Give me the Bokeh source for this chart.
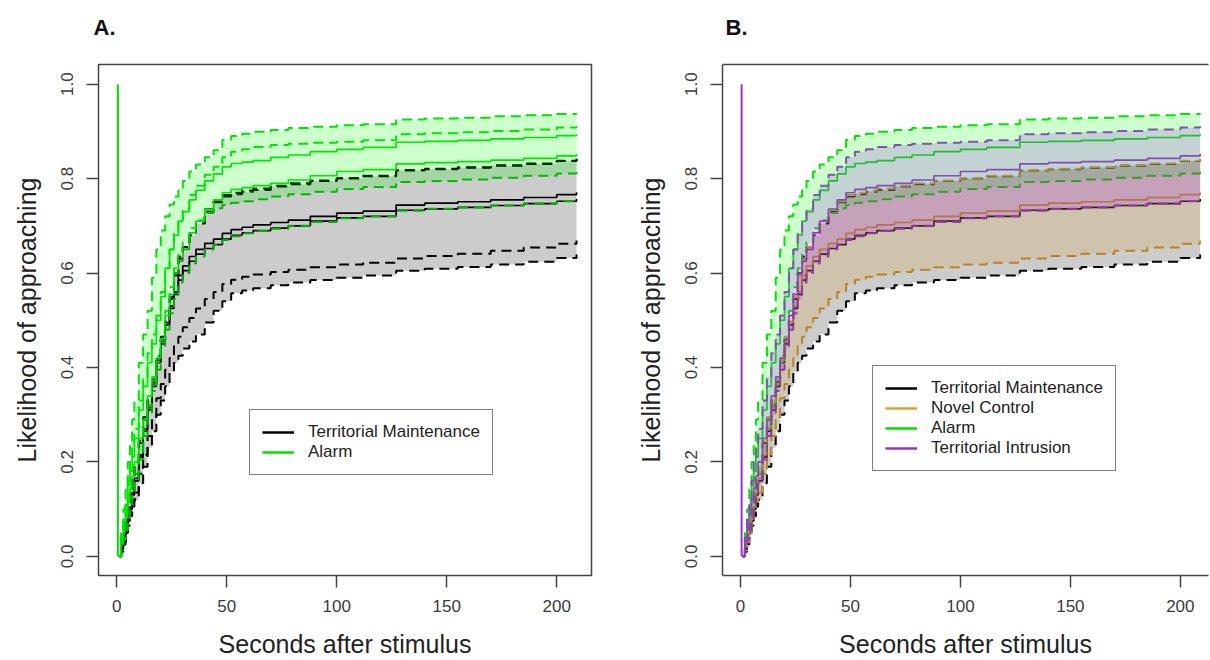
from bokeh.plotting import figure
from bokeh.models import Range1d, FixedTicker, PrintfTickFormatter, Legend, LegendItem, LinearAxis, Title
from bokeh.layouts import row
from bokeh.embed import file_html
from bokeh.resources import INLINE

# ---------------- data ----------------
TIME = [1, 2, 3, 4, 5, 6, 7, 8, 10, 12, 14, 16, 18, 20, 22, 24, 26, 28, 30, 33, 36, 40,
        44, 48, 52, 57, 62, 70, 78, 88, 100, 112, 127, 140, 155, 170, 185, 200, 209]

TM_EST = [0.0, 0.015, 0.03, 0.05, 0.075, 0.10, 0.13, 0.16, 0.21, 0.265, 0.31, 0.36, 0.41, 0.45, 0.49,
          0.525, 0.555, 0.585, 0.605, 0.625, 0.64, 0.652, 0.66, 0.672, 0.68, 0.685, 0.69, 0.695, 0.70,
          0.71, 0.717, 0.72, 0.733, 0.736, 0.739, 0.743, 0.747, 0.752, 0.757]
TM_LO = [0.0, 0.01, 0.025, 0.045, 0.065, 0.085, 0.105, 0.12, 0.155, 0.19, 0.23, 0.265, 0.30, 0.33, 0.36,
         0.39, 0.41, 0.425, 0.44, 0.455, 0.47, 0.495, 0.52, 0.54, 0.557, 0.563, 0.568, 0.574, 0.58,
         0.585, 0.59, 0.595, 0.605, 0.609, 0.613, 0.618, 0.624, 0.632, 0.639]
TM_HI = [0.0, 0.025, 0.05, 0.08, 0.11, 0.14, 0.165, 0.19, 0.24, 0.29, 0.33, 0.37, 0.42, 0.46, 0.50,
         0.545, 0.60, 0.635, 0.655, 0.68, 0.705, 0.73, 0.75, 0.762, 0.767, 0.772, 0.776, 0.783, 0.788,
         0.795, 0.80, 0.805, 0.817, 0.82, 0.823, 0.827, 0.831, 0.837, 0.841]

NC_EST = [0.0, 0.02, 0.035, 0.055, 0.08, 0.105, 0.135, 0.165, 0.215, 0.27, 0.315, 0.365, 0.415, 0.455, 0.495,
          0.53, 0.56, 0.595, 0.615, 0.635, 0.65, 0.663, 0.672, 0.684, 0.692, 0.697, 0.702, 0.707, 0.712,
          0.72, 0.727, 0.731, 0.744, 0.748, 0.751, 0.755, 0.76, 0.766, 0.771]
NC_LO = [0.0, 0.012, 0.03, 0.05, 0.07, 0.095, 0.115, 0.135, 0.175, 0.215, 0.255, 0.295, 0.335, 0.365, 0.395,
         0.42, 0.445, 0.465, 0.485, 0.505, 0.525, 0.545, 0.56, 0.577, 0.586, 0.592, 0.597, 0.602, 0.607,
         0.612, 0.618, 0.622, 0.631, 0.636, 0.641, 0.647, 0.654, 0.662, 0.669]
NC_HI = [0.0, 0.028, 0.055, 0.085, 0.115, 0.145, 0.17, 0.195, 0.245, 0.295, 0.335, 0.375, 0.425, 0.465, 0.505,
         0.55, 0.595, 0.63, 0.655, 0.685, 0.71, 0.735, 0.752, 0.765, 0.77, 0.775, 0.779, 0.785, 0.79,
         0.796, 0.801, 0.806, 0.818, 0.821, 0.824, 0.828, 0.832, 0.838, 0.842]

AL_EST = [0.0, 0.035, 0.07, 0.11, 0.15, 0.18, 0.21, 0.25, 0.31, 0.36, 0.41, 0.45, 0.50, 0.55, 0.61,
          0.65, 0.68, 0.71, 0.73, 0.755, 0.775, 0.795, 0.81, 0.825, 0.832, 0.835, 0.838, 0.845, 0.85,
          0.857, 0.862, 0.866, 0.877, 0.879, 0.881, 0.884, 0.887, 0.891, 0.894]
AL_LO = [0.0, 0.02, 0.045, 0.07, 0.10, 0.125, 0.15, 0.175, 0.22, 0.27, 0.32, 0.36, 0.41, 0.46, 0.52,
         0.57, 0.61, 0.64, 0.665, 0.695, 0.712, 0.727, 0.737, 0.744, 0.749, 0.752, 0.756, 0.762, 0.767,
         0.772, 0.778, 0.782, 0.793, 0.795, 0.798, 0.802, 0.806, 0.811, 0.815]
AL_HI = [0.0, 0.05, 0.10, 0.15, 0.20, 0.24, 0.29, 0.33, 0.41, 0.47, 0.52, 0.59, 0.65, 0.69, 0.72,
         0.745, 0.762, 0.78, 0.795, 0.815, 0.83, 0.845, 0.86, 0.882, 0.89, 0.895, 0.899, 0.903, 0.907,
         0.91, 0.913, 0.915, 0.925, 0.927, 0.929, 0.932, 0.934, 0.937, 0.938]

TI_EST = [0.0, 0.03, 0.06, 0.09, 0.12, 0.145, 0.17, 0.20, 0.25, 0.29, 0.34, 0.38, 0.42, 0.46, 0.51,
          0.555, 0.60, 0.625, 0.65, 0.685, 0.71, 0.735, 0.755, 0.77, 0.777, 0.781, 0.785, 0.79, 0.797,
          0.806, 0.815, 0.819, 0.831, 0.834, 0.836, 0.839, 0.843, 0.848, 0.852]
TI_LO = [0.0, 0.015, 0.035, 0.055, 0.08, 0.105, 0.13, 0.155, 0.205, 0.255, 0.30, 0.35, 0.395, 0.44, 0.48,
         0.515, 0.545, 0.58, 0.60, 0.62, 0.635, 0.65, 0.66, 0.67, 0.678, 0.684, 0.689, 0.694, 0.70,
         0.708, 0.716, 0.72, 0.732, 0.736, 0.739, 0.743, 0.747, 0.752, 0.756]
TI_HI = [0.0, 0.04, 0.08, 0.12, 0.16, 0.20, 0.23, 0.27, 0.33, 0.38, 0.43, 0.47, 0.51, 0.56, 0.61,
         0.65, 0.685, 0.71, 0.735, 0.765, 0.785, 0.808, 0.825, 0.845, 0.857, 0.862, 0.867, 0.871, 0.874,
         0.876, 0.878, 0.881, 0.894, 0.896, 0.898, 0.901, 0.904, 0.908, 0.911]

GROUPS = ["Territorial Maintenance", "Novel Control", "Alarm", "Territorial Intrusion"]
PANEL_TITLES = ["A.", "B."]
VLINE_X = [0.5, 0.5]
VLINE_Y = [0.0, 1.0]
X_TICKS = [0, 50, 100, 150, 200]
Y_TICKS = [0.0, 0.2, 0.4, 0.6, 0.8, 1.0]

SERIES = [(TM_EST, TM_LO, TM_HI), (NC_EST, NC_LO, NC_HI),
          (AL_EST, AL_LO, AL_HI), (TI_EST, TI_LO, TI_HI)]

# ---------------- style ----------------
FONT = "Liberation Sans"
BLACK = "#000000"
GREEN = "#00E000"
GREEN_FILL = "#00FF00"
ORANGE = "#E0A030"
PURPLE = "#9A32CD"
PURPLE_FILL = "#A020F0"
BOX = "#444444"
NAN = float("nan")


def style_axis(ax, ticks):
    ax.ticker = FixedTicker(ticks=ticks)
    ax.major_tick_out = 12
    ax.major_tick_in = 0
    ax.minor_tick_out = 0
    ax.minor_tick_in = 0
    ax.major_tick_line_color = BOX
    ax.major_tick_line_width = 1.5
    ax.major_label_text_font = FONT
    ax.major_label_text_font_size = "17px"
    ax.major_label_text_color = "#3a3a3a"
    ax.major_label_standoff = 13
    ax.axis_label_text_font = FONT
    ax.axis_label_text_font_size = "25px"
    ax.axis_label_text_font_style = "normal"
    ax.axis_label_text_color = "#222222"


def make_panel(width, x_start, x_end, min_left, min_right, title, title_offset,
               line_colors, fills, legend_names, legend_colors, legend_loc, full_box):
    p = figure(width=width, height=660, x_range=Range1d(x_start, x_end),
               y_range=Range1d(-0.0405, 1.0416), output_backend="svg", toolbar_location=None,
               min_border_left=min_left, min_border_right=min_right,
               min_border_top=64, min_border_bottom=83, title=None,
               x_axis_label="Seconds after stimulus", y_axis_label="Likelihood of approaching")
    p.xgrid.visible = False
    p.ygrid.visible = False
    p.background_fill_color = "white"
    p.border_fill_color = "white"

    style_axis(p.xaxis[0], X_TICKS)
    style_axis(p.yaxis[0], Y_TICKS)
    p.yaxis[0].formatter = PrintfTickFormatter(format="%.1f")
    p.yaxis[0].major_label_orientation = "vertical"
    p.xaxis[0].major_label_standoff = 12
    p.xaxis[0].axis_label_standoff = 15
    p.yaxis[0].axis_label_standoff = 18

    if full_box:
        p.outline_line_color = BOX
        p.outline_line_width = 1.5
        p.xaxis[0].axis_line_color = None
        p.yaxis[0].axis_line_color = None
    else:
        p.outline_line_color = None
        p.xaxis[0].axis_line_color = BOX
        p.xaxis[0].axis_line_width = 1.5
        p.yaxis[0].axis_line_color = BOX
        p.yaxis[0].axis_line_width = 1.5

    # tick-less top axis: draws the top edge of the box (panel B); its blank
    # label reserves the gap between the box and the panel letter
    top = LinearAxis(ticker=FixedTicker(ticks=[]), major_tick_out=0, major_tick_in=0,
                     minor_tick_out=0, minor_tick_in=0, major_label_standoff=0,
                     axis_label=" ", axis_label_standoff=0, axis_label_text_font_size="20px",
                     axis_line_color=(None if full_box else BOX),
                     axis_line_width=1.5, major_label_text_font_size="0px")
    p.add_layout(top, "above")

    p.add_layout(Title(text=title, align="left", offset=title_offset, text_font=FONT,
                       text_font_size="22px", text_font_style="bold", text_color="#111111",
                       standoff=0), "above")

    # curves
    for (est, lo, hi), col in zip(SERIES, line_colors):
        p.step(TIME, est, mode="after", line_color=col, line_width=1.7)
        p.step(TIME, lo, mode="after", line_color=col, line_width=2.0, line_dash="10 6")
        p.step(TIME, hi, mode="after", line_color=col, line_width=2.0, line_dash="10 6")
    # confidence bands
    for gi, fcol in fills:
        est, lo, hi = SERIES[gi]
        p.varea_step(x=TIME, y1=lo, y2=hi, step_mode="after", fill_color=fcol, fill_alpha=0.2)
    p.line(VLINE_X, VLINE_Y, line_color=line_colors[-1], line_width=2)

    items = []
    for name, col in zip(legend_names, legend_colors):
        r = p.line([NAN, NAN], [NAN, NAN], line_color=col, line_width=2.5)
        items.append(LegendItem(label=name, renderers=[r]))
    leg = Legend(items=items, location=legend_loc, padding=12, spacing=0, margin=0,
                 label_height=20, glyph_height=20, glyph_width=32, label_standoff=14,
                 label_text_font=FONT, label_text_font_size="17px", label_text_color="#222222",
                 border_line_color="black", border_line_width=1.2,
                 background_fill_color="white", background_fill_alpha=1.0)
    p.add_layout(leg)
    return p


pa = make_panel(612, -8.3, 215.8, 98, 21, PANEL_TITLES[0], -5,
                [BLACK, BLACK, GREEN, GREEN],
                [(0, BLACK), (2, GREEN_FILL)],
                [GROUPS[0], GROUPS[2]], [BLACK, GREEN], (151, 100), True)

pb = make_panel(598, -8.19, 212.8, 110, 2, PANEL_TITLES[1], 3,
                [BLACK, ORANGE, GREEN, PURPLE],
                [(0, BLACK), (1, ORANGE), (2, GREEN_FILL), (3, PURPLE_FILL)],
                GROUPS, [BLACK, ORANGE, GREEN, PURPLE], (150, 104), False)

layout = row(pa, pb)
open("out.html", "w").write(file_html(layout, INLINE))
